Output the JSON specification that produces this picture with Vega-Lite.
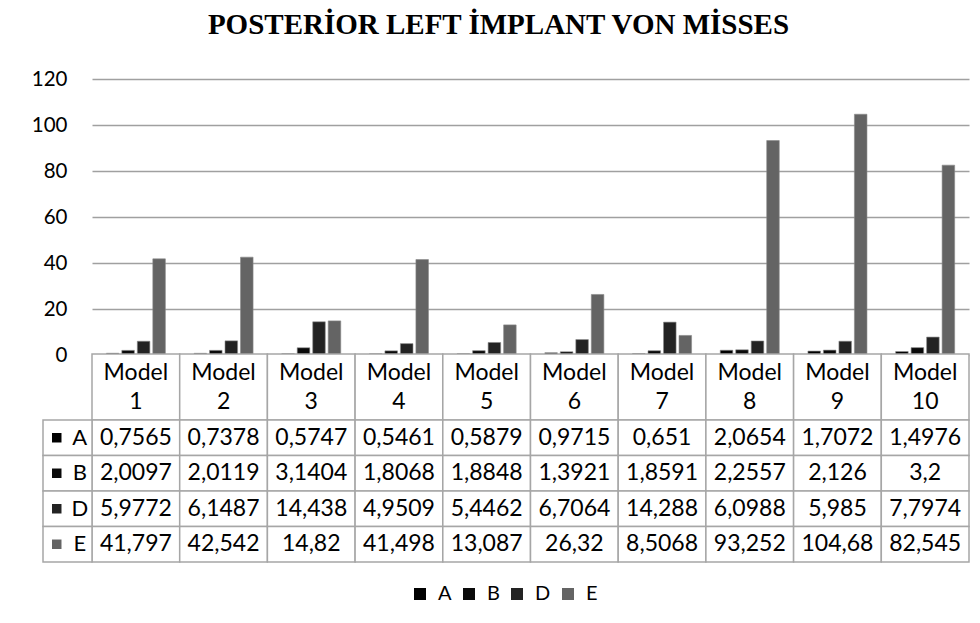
{
  "$schema": "https://vega.github.io/schema/vega-lite/v6.json",
  "autosize": {"type": "none"},
  "padding": {"left": 92, "top": 79, "right": 11, "bottom": 268},
  "width": 877,
  "height": 276,
  "background": "white",
  "config": {
    "view": {"stroke": null},
    "font": "Lato",
    "locale": {"number": {"decimal": ",", "thousands": ".", "grouping": [3], "currency": ["", " €"]}}
  },
  "title": {
    "text": "POSTERİOR LEFT İMPLANT VON MİSSES",
    "font": "Liberation Serif",
    "fontSize": 29,
    "fontWeight": "bold",
    "color": "#000000",
    "anchor": "middle",
    "dx": -32,
    "offset": 29
  },
  "data": {
    "values": [
      {"model": "Model 1", "series": "A", "value": 0.7565},
      {"model": "Model 1", "series": "B", "value": 2.0097},
      {"model": "Model 1", "series": "D", "value": 5.9772},
      {"model": "Model 1", "series": "E", "value": 41.797},
      {"model": "Model 2", "series": "A", "value": 0.7378},
      {"model": "Model 2", "series": "B", "value": 2.0119},
      {"model": "Model 2", "series": "D", "value": 6.1487},
      {"model": "Model 2", "series": "E", "value": 42.542},
      {"model": "Model 3", "series": "A", "value": 0.5747},
      {"model": "Model 3", "series": "B", "value": 3.1404},
      {"model": "Model 3", "series": "D", "value": 14.438},
      {"model": "Model 3", "series": "E", "value": 14.82},
      {"model": "Model 4", "series": "A", "value": 0.5461},
      {"model": "Model 4", "series": "B", "value": 1.8068},
      {"model": "Model 4", "series": "D", "value": 4.9509},
      {"model": "Model 4", "series": "E", "value": 41.498},
      {"model": "Model 5", "series": "A", "value": 0.5879},
      {"model": "Model 5", "series": "B", "value": 1.8848},
      {"model": "Model 5", "series": "D", "value": 5.4462},
      {"model": "Model 5", "series": "E", "value": 13.087},
      {"model": "Model 6", "series": "A", "value": 0.9715},
      {"model": "Model 6", "series": "B", "value": 1.3921},
      {"model": "Model 6", "series": "D", "value": 6.7064},
      {"model": "Model 6", "series": "E", "value": 26.32},
      {"model": "Model 7", "series": "A", "value": 0.651},
      {"model": "Model 7", "series": "B", "value": 1.8591},
      {"model": "Model 7", "series": "D", "value": 14.288},
      {"model": "Model 7", "series": "E", "value": 8.5068},
      {"model": "Model 8", "series": "A", "value": 2.0654},
      {"model": "Model 8", "series": "B", "value": 2.2557},
      {"model": "Model 8", "series": "D", "value": 6.0988},
      {"model": "Model 8", "series": "E", "value": 93.252},
      {"model": "Model 9", "series": "A", "value": 1.7072},
      {"model": "Model 9", "series": "B", "value": 2.126},
      {"model": "Model 9", "series": "D", "value": 5.985},
      {"model": "Model 9", "series": "E", "value": 104.68},
      {"model": "Model 10", "series": "A", "value": 1.4976},
      {"model": "Model 10", "series": "B", "value": 3.2},
      {"model": "Model 10", "series": "D", "value": 7.7974},
      {"model": "Model 10", "series": "E", "value": 82.545}
    ]
  },
  "resolve": {"scale": {"x": "independent", "y": "independent"}},
  "layer": [
    {
      "mark": {"type": "bar", "stroke": "#8a8a8a", "strokeWidth": 0.6},
      "encoding": {
        "x": {"field": "model", "type": "nominal", "sort": null, "axis": null,
              "scale": {"paddingInner": 0, "paddingOuter": 0}},
        "xOffset": {"field": "series", "type": "nominal", "sort": ["A", "B", "D", "E"],
                    "scale": {"paddingInner": 0.19, "paddingOuter": 0.925}},
        "y": {"field": "value", "type": "quantitative",
              "scale": {"domain": [0, 120], "nice": false},
              "axis": {"values": [0, 20, 40, 60, 80, 100, 120], "title": null,
                       "domain": false, "ticks": false, "labelPadding": 25,
                       "labelFontSize": 20.5, "labelFont": "Lato", "labelColor": "#000000",
                       "grid": true, "gridColor": "#a0a0a0", "gridWidth": 1.5}},
        "color": {"field": "series", "type": "nominal", "sort": ["A", "B", "D", "E"],
                  "scale": {"domain": ["A", "B", "D", "E"], "range": ["#000000", "#0a0a0a", "#232323", "#646464"]},
                  "legend": {"title": null, "orient": "none", "direction": "horizontal",
                             "legendX": 318, "legendY": 505, "symbolType": "square",
                             "symbolSize": 144, "symbolStrokeWidth": 0, "labelFontSize": 20,
                             "labelFont": "Lato", "labelColor": "#000000", "labelOffset": 8,
                             "columnPadding": 7}}
      }
    },
    {
      "transform": [{"filter": "datum.series === 'A'"}],
      "mark": {"type": "rect", "fill": "white", "stroke": "#a6a6a6", "strokeWidth": 1.5},
      "encoding": {
        "x": {"field": "model", "type": "nominal", "sort": null, "axis": null,
              "scale": {"paddingInner": 0, "paddingOuter": 0}},
        "y": {"datum": "H", "type": "nominal", "axis": null,
              "scale": {"domain": ["H"], "range": [275, 341], "paddingInner": 0, "paddingOuter": 0}}
      }
    },
    {
      "transform": [{"filter": "datum.series === 'A'"}],
      "mark": {"type": "text", "font": "Lato", "fontSize": 23, "color": "#000000",
               "lineBreak": " ", "lineHeight": 29, "baseline": "middle", "align": "center", "dy": -14},
      "encoding": {
        "x": {"field": "model", "type": "nominal", "sort": null, "axis": null,
              "scale": {"paddingInner": 0, "paddingOuter": 0}},
        "y": {"datum": "H", "type": "nominal", "axis": null,
              "scale": {"domain": ["H"], "range": [275, 341], "paddingInner": 0, "paddingOuter": 0}},
        "text": {"field": "model", "type": "nominal"}
      }
    },
    {
      "mark": {"type": "rect", "fill": "white", "stroke": "#a6a6a6", "strokeWidth": 1.5},
      "encoding": {
        "x": {"field": "model", "type": "nominal", "sort": null, "axis": null,
              "scale": {"paddingInner": 0, "paddingOuter": 0}},
        "y": {"field": "series", "type": "nominal", "axis": null,
              "scale": {"domain": ["A", "B", "D", "E"], "range": [341, 483], "paddingInner": 0, "paddingOuter": 0}}
      }
    },
    {
      "mark": {"type": "text", "font": "Lato", "fontSize": 23, "color": "#000000",
               "baseline": "middle", "align": "center"},
      "encoding": {
        "x": {"field": "model", "type": "nominal", "sort": null, "axis": null,
              "scale": {"paddingInner": 0, "paddingOuter": 0}},
        "y": {"field": "series", "type": "nominal", "axis": null,
              "scale": {"domain": ["A", "B", "D", "E"], "range": [341, 483], "paddingInner": 0, "paddingOuter": 0}},
        "text": {"field": "value", "type": "quantitative", "format": "~g"}
      }
    },
    {
      "transform": [{"filter": "datum.model === 'Model 1'"}],
      "mark": {"type": "rect", "fill": "white", "stroke": "#a6a6a6", "strokeWidth": 1.5},
      "encoding": {
        "x": {"datum": "key", "type": "nominal", "axis": null,
              "scale": {"domain": ["key"], "range": [-49, 0], "paddingInner": 0, "paddingOuter": 0}},
        "y": {"field": "series", "type": "nominal", "axis": null,
              "scale": {"domain": ["A", "B", "D", "E"], "range": [341, 483], "paddingInner": 0, "paddingOuter": 0}}
      }
    },
    {
      "transform": [{"filter": "datum.model === 'Model 1'"}],
      "mark": {"type": "point", "shape": "square", "filled": true, "size": 90, "opacity": 1},
      "encoding": {
        "x": {"datum": "sq", "type": "nominal", "axis": null,
              "scale": {"domain": ["sq", "lt"], "range": [-47, 0], "paddingInner": 0, "paddingOuter": 0}},
        "y": {"field": "series", "type": "nominal", "axis": null,
              "scale": {"domain": ["A", "B", "D", "E"], "range": [341, 483], "paddingInner": 0, "paddingOuter": 0}},
        "color": {"field": "series", "type": "nominal", "sort": ["A", "B", "D", "E"]}
      }
    },
    {
      "transform": [{"filter": "datum.model === 'Model 1'"}],
      "mark": {"type": "text", "font": "Lato", "fontSize": 22, "color": "#000000",
               "baseline": "middle", "align": "center"},
      "encoding": {
        "x": {"datum": "lt", "type": "nominal", "axis": null,
              "scale": {"domain": ["sq", "lt"], "range": [-49, 0], "paddingInner": 0, "paddingOuter": 0}},
        "y": {"field": "series", "type": "nominal", "axis": null,
              "scale": {"domain": ["A", "B", "D", "E"], "range": [341, 483], "paddingInner": 0, "paddingOuter": 0}},
        "text": {"field": "series", "type": "nominal"}
      }
    }
  ]
}
